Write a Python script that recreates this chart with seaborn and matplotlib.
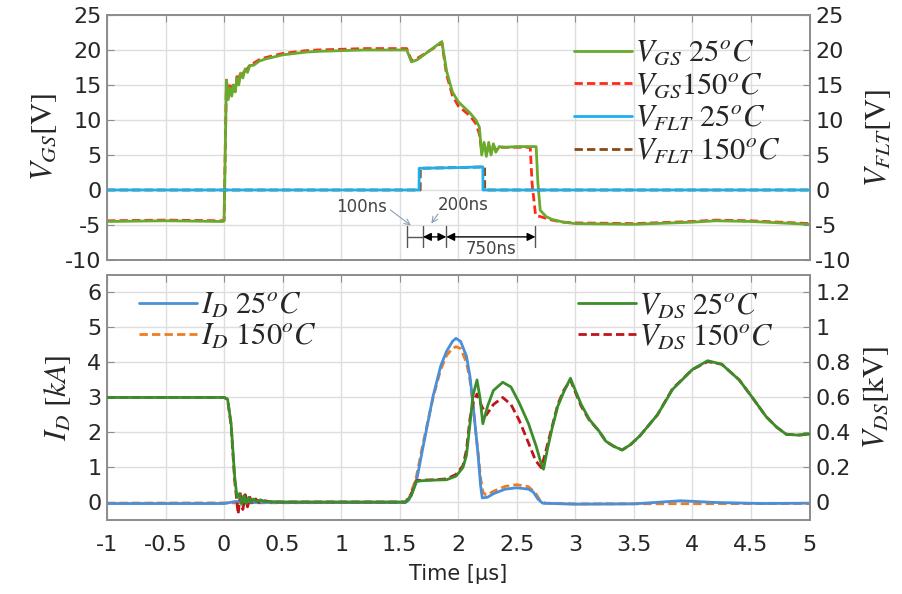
import numpy as np
import matplotlib
matplotlib.use("Agg")
import matplotlib.pyplot as plt
from matplotlib.ticker import FuncFormatter
import seaborn as sns

# ==========================================
# datos (tiempo en us)
# ==========================================
t_vgs25 = [-1, -0.5, -0.01, 0.0, 0.02, 0.035, 0.05, 0.065, 0.08, 0.095, 0.11, 0.125, 0.14,
           0.16, 0.18, 0.20, 0.22, 0.25, 0.30, 0.35, 0.40, 0.5, 0.6, 0.7, 0.8, 1.0, 1.2, 1.4,
           1.56, 1.60, 1.65, 1.86, 1.90, 1.95, 2.00, 2.05, 2.10, 2.15, 2.18, 2.20, 2.22, 2.24,
           2.26, 2.28, 2.30, 2.32, 2.35, 2.40, 2.5, 2.6, 2.665, 2.68, 2.70, 2.75, 2.8, 2.9,
           3.0, 3.5, 4.0, 4.2, 4.5, 5.0]
v_vgs25 = [-4.5, -4.4, -4.5, -4.4, 15.7, 12.9, 14.6, 13.4, 15.0, 14.0, 16.0, 15.0, 16.7,
           16.0, 17.3, 16.8, 17.8, 17.8, 18.4, 18.7, 18.9, 19.3, 19.5, 19.7, 19.8, 19.9, 20.0, 20.0,
           20.0, 18.3, 18.6, 21.2, 17.0, 14.0, 12.6, 11.8, 11.0, 10.0, 9.0, 5.0, 6.8, 4.8,
           6.8, 5.0, 6.6, 5.4, 6.2, 6.1, 6.2, 6.2, 6.2, 1.0, -2.9, -3.8, -4.2, -4.6,
           -4.8, -4.9, -4.6, -4.4, -4.5, -4.9]

t_vgs150 = [-1, -0.5, -0.01, 0.0, 0.02, 0.035, 0.05, 0.065, 0.08, 0.095, 0.11, 0.125, 0.14,
            0.16, 0.18, 0.20, 0.22, 0.25, 0.30, 0.35, 0.40, 0.5, 0.6, 0.7, 0.8, 1.0, 1.2, 1.4,
            1.56, 1.60, 1.65, 1.86, 1.90, 1.95, 2.00, 2.05, 2.10, 2.15, 2.18, 2.20, 2.22, 2.24,
            2.26, 2.28, 2.30, 2.32, 2.35, 2.40, 2.5, 2.6, 2.615, 2.63, 2.66, 2.72, 2.8, 2.9,
            3.0, 3.5, 4.0, 4.2, 4.5, 5.0]
v_vgs150 = [-4.4, -4.3, -4.4, -4.3, 15.9, 13.2, 14.9, 13.7, 15.3, 14.3, 16.2, 15.3, 16.9,
            16.3, 17.5, 17.1, 18.0, 18.1, 18.6, 18.9, 19.1, 19.5, 19.7, 19.9, 20.0, 20.1, 20.2, 20.2,
            20.2, 18.5, 18.8, 21.0, 16.5, 13.5, 12.0, 11.3, 10.6, 9.5, 8.0, 5.6, 6.5, 5.2,
            6.5, 5.4, 6.4, 5.7, 6.1, 6.1, 6.1, 6.1, 6.0, 1.0, -3.6, -3.9, -4.3, -4.6,
            -4.7, -4.8, -4.5, -4.3, -4.4, -4.8]

t_vflt25 = [-1, 1.665, 1.666, 2.0, 2.21, 2.211, 5]
v_vflt25 = [0, 0, 3.1, 3.2, 3.3, 0, 0]
t_vflt150 = [-1, 1.675, 1.676, 2.0, 2.225, 2.226, 5]
v_vflt150 = [0, 0, 3.1, 3.2, 3.3, 0, 0]

t_id25 = [-1, 0, 0.1, 0.2, 1.0, 1.55, 1.58, 1.64, 1.70, 1.785, 1.85, 1.90, 1.95, 1.98,
          2.02, 2.07, 2.10, 2.125, 2.15, 2.17, 2.19, 2.205, 2.25, 2.30, 2.40, 2.50, 2.60,
          2.64, 2.68, 2.72, 3.0, 3.5, 3.9, 4.2, 4.6, 5.0]
i_id25 = [-0.03, -0.03, 0.03, 0.0, 0.0, 0.0, 0.08, 0.56, 1.6, 3.04, 3.9, 4.32, 4.6, 4.69,
          4.6, 4.18, 3.6, 2.85, 2.0, 1.32, 0.5, 0.13, 0.15, 0.25, 0.38, 0.42, 0.38,
          0.3, 0.1, -0.02, -0.05, -0.04, 0.05, 0.0, -0.03, -0.02]

t_id150 = [-1, 1.55, 1.58, 1.64, 1.70, 1.785, 1.85, 1.90, 1.95, 1.98, 2.02, 2.07, 2.10,
           2.125, 2.15, 2.17, 2.19, 2.21, 2.24, 2.30, 2.40, 2.50, 2.60, 2.66, 2.70, 2.74,
           3.0, 5.0]
i_id150 = [-0.02, 0.0, 0.12, 0.7, 1.7, 3.0, 3.8, 4.2, 4.4, 4.45, 4.4, 4.0, 3.5,
           2.8, 2.0, 1.4, 0.7, 0.3, 0.2, 0.32, 0.46, 0.51, 0.45, 0.27, 0.05, -0.02,
           -0.04, -0.03]

t_vds25 = [-1, -0.5, 0.0, 0.03, 0.06, 0.09, 0.11, 0.13, 0.15, 0.17, 0.19, 0.21, 0.23, 0.25,
           0.28, 0.31, 0.35, 0.4, 0.5, 1.0, 1.55, 1.60, 1.64, 1.7, 1.8, 1.9, 1.98, 2.04, 2.07,
           2.10, 2.125, 2.16, 2.185, 2.21, 2.25, 2.30, 2.38, 2.45, 2.52, 2.6, 2.666, 2.70,
           2.728, 2.76, 2.8, 2.85, 2.9, 2.958, 3.0, 3.05, 3.12, 3.2, 3.26, 3.33, 3.40, 3.47,
           3.55, 3.7, 3.83, 4.0, 4.13, 4.25, 4.4, 4.5, 4.63, 4.72, 4.80, 4.9, 5.0]
v_vds25 = [0.6, 0.6, 0.6, 0.59, 0.45, 0.15, 0.03, 0.05, -0.01, 0.04, -0.005, 0.03, 0.0, 0.02,
           0.005, 0.015, 0.005, 0.005, 0.003, 0.003, 0.003, 0.04, 0.12, 0.125, 0.128, 0.13, 0.15, 0.2, 0.27,
           0.45, 0.61, 0.70, 0.60, 0.45, 0.55, 0.64, 0.687, 0.66, 0.57, 0.45, 0.32, 0.24,
           0.19, 0.3, 0.42, 0.55, 0.63, 0.71, 0.64, 0.56, 0.474, 0.41, 0.35, 0.32, 0.30, 0.33,
           0.38, 0.5, 0.646, 0.76, 0.81, 0.79, 0.70, 0.61, 0.49, 0.43, 0.39, 0.385, 0.39]

t_vds150 = [-1, -0.5, 0.0, 0.03, 0.06, 0.09, 0.11, 0.12, 0.14, 0.16, 0.18, 0.20, 0.22, 0.24,
            0.27, 0.30, 0.35, 0.4, 0.5, 1.0, 1.55, 1.60, 1.64, 1.7, 1.8, 1.9, 1.98, 2.04, 2.07,
            2.10, 2.13, 2.16, 2.20, 2.24, 2.30, 2.38, 2.45, 2.52, 2.6, 2.66, 2.71, 2.75, 2.8,
            2.85, 2.9, 2.958, 3.0, 3.05, 3.12, 3.2, 3.26, 3.33, 3.40, 3.47, 3.55, 3.7, 3.83,
            4.0, 4.13, 4.25, 4.4, 4.5, 4.63, 4.72, 4.80, 4.9, 5.0]
v_vds150 = [0.6, 0.6, 0.6, 0.59, 0.44, 0.13, 0.0, -0.067, 0.06, -0.04, 0.045, -0.025, 0.03, -0.01,
            0.02, 0.0, 0.01, 0.003, 0.003, 0.003, 0.003, 0.05, 0.125, 0.128, 0.13, 0.135, 0.16, 0.21, 0.30,
            0.48, 0.58, 0.62, 0.55, 0.50, 0.56, 0.60, 0.56, 0.47, 0.34, 0.24, 0.198, 0.3, 0.43,
            0.56, 0.64, 0.70, 0.63, 0.55, 0.47, 0.41, 0.35, 0.32, 0.30, 0.33, 0.38, 0.5, 0.65,
            0.76, 0.805, 0.79, 0.70, 0.61, 0.49, 0.43, 0.39, 0.385, 0.39]

# cotas de tiempo (100ns / 200ns / 750ns)
cotas_t = [1.566, 1.699, 1.898, 2.659]

# ==========================================
# estilo
# ==========================================
sns.set_style("whitegrid")
plt.rcParams['font.family'] = ['DejaVu Sans']
plt.rcParams['mathtext.fontset'] = 'stix'
plt.rcParams['axes.unicode_minus'] = False

gris_borde = '#8c8c8c'
gris_grid = '#dedede'
col_txt = '#262626'

fig = plt.figure(figsize=(9.03, 5.94), dpi=100)
ax1 = fig.add_axes([0.1185, 0.5623, 0.778, 0.4125])
ax2 = fig.add_axes([0.1185, 0.1246, 0.778, 0.4125])
ax1r = ax1.twinx()
ax2r = ax2.twinx()

fmt = FuncFormatter(lambda v, p: f'{v:g}')


def linea(ax, t, v, color, ls, label, lw=2.0, z=2):
    sns.lineplot(x=t, y=v, ax=ax, color=color, linestyle=ls, linewidth=lw, label=label,
                 estimator=None, sort=False, zorder=z)


# ---- panel superior ----
linea(ax1, t_vgs150, v_vgs150, '#ff2a1a', (0, (3, 1.5)), r'$V_{GS}150^{o}C$', z=2)
linea(ax1, t_vgs25, v_vgs25, '#6aaa2c', '-', r'$V_{GS}\ 25^{o}C$', z=3)
linea(ax1r, t_vflt150, v_vflt150, '#8a4a12', (0, (3, 1.5)), r'$V_{FLT}\ 150^{o}C$', z=2)
linea(ax1r, t_vflt25, v_vflt25, '#1eb0ee', '-', r'$V_{FLT}\ 25^{o}C$', z=3)

# ---- panel inferior ----
linea(ax2, t_id150, i_id150, '#ee7d22', (0, (3, 1.5)), r'$I_D\ 150^{o}C$', z=2)
linea(ax2, t_id25, i_id25, '#4a8fd8', '-', r'$I_D\ 25^{o}C$', z=3)
linea(ax2r, t_vds150, v_vds150, '#c0141a', (0, (3, 1.5)), r'$V_{DS}\ 150^{o}C$', z=2)
linea(ax2r, t_vds25, v_vds25, '#3a8e2a', '-', r'$V_{DS}\ 25^{o}C$', z=3)

for ax in (ax1, ax2):
    ax.set_xlim(-1, 5)
    ax.set_xticks(np.arange(-1, 5.01, 0.5))
    ax.grid(True, color=gris_grid, linewidth=1.0)
    ax.xaxis.set_major_formatter(fmt)
    ax.yaxis.set_major_formatter(fmt)
for ax in (ax1r, ax2r):
    ax.grid(False)
    ax.yaxis.set_major_formatter(fmt)
for ax in (ax1, ax2, ax1r, ax2r):
    for s in ax.spines.values():
        s.set_color(gris_borde)
        s.set_linewidth(1.2)
    ax.tick_params(direction='in', length=5, color=gris_borde, labelsize=16,
                   labelcolor=col_txt, pad=4, top=True)
    ax.set_facecolor('none')
ax2.tick_params(axis='x', pad=11)

ax1.set_ylim(-10, 25)
ax1.set_yticks(np.arange(-10, 26, 5))
ax1r.set_ylim(-10, 25)
ax1r.set_yticks(np.arange(-10, 26, 5))
ax1.tick_params(labelbottom=False)
ax1r.tick_params(labelbottom=False)

ax2.set_ylim(-0.5, 6.5)
ax2.set_yticks(np.arange(0, 7, 1))
ax2r.set_ylim(-0.1, 1.3)
ax2r.set_yticks([0, 0.2, 0.4, 0.6, 0.8, 1.0, 1.2])

ax1.set_ylabel(r'$V_{GS}[\mathrm{V}]$', fontsize=22, color=col_txt, labelpad=4)
ax1r.set_ylabel(r'$V_{FLT}[\mathrm{V}]$', fontsize=22, color=col_txt, labelpad=8)
ax2.set_ylabel(r'$I_D\ [kA]$', fontsize=22, color=col_txt, labelpad=10)
ax2r.set_ylabel(r'$V_{DS}[\mathrm{kV}]$', fontsize=22, color=col_txt, labelpad=8)
ax2.set_xlabel('Time [µs]', fontsize=15, color=col_txt, labelpad=6)

# ---- leyendas ----
for ax in (ax1, ax1r, ax2, ax2r):
    if ax.get_legend() is not None:
        ax.get_legend().remove()

h1, l1 = ax1.get_legend_handles_labels()
h1r, l1r = ax1r.get_legend_handles_labels()
ax1r.legend([h1[1], h1[0], h1r[1], h1r[0]], [l1[1], l1[0], l1r[1], l1r[0]],
            loc='upper right', bbox_to_anchor=(0.985, 0.98), frameon=False,
            fontsize=22, labelspacing=0.12, handlelength=1.9, handletextpad=0.1,
            borderaxespad=0.2)

h2, l2 = ax2.get_legend_handles_labels()
ax2.legend([h2[1], h2[0]], [l2[1], l2[0]], loc='upper left', bbox_to_anchor=(0.02, 1.01),
           frameon=False, fontsize=22, labelspacing=0.05, handlelength=1.9,
           handletextpad=0.1, borderaxespad=0.2)
h2r, l2r = ax2r.get_legend_handles_labels()
ax2r.legend([h2r[1], h2r[0]], [l2r[1], l2r[0]], loc='upper right',
            bbox_to_anchor=(0.975, 1.01), frameon=False, fontsize=22, labelspacing=0.05,
            handlelength=1.9, handletextpad=0.1, borderaxespad=0.2)

# ---- cotas de tiempo ----
y_cota = -6.7
for tc in cotas_t:
    ax1r.plot([tc, tc], [-5.2, -8.1], color='#555555', lw=1.0)
ax1r.plot([cotas_t[0], cotas_t[1]], [y_cota, y_cota], color='#555555', lw=1.0)
for a, b in [(cotas_t[1], cotas_t[2]), (cotas_t[2], cotas_t[3])]:
    ax1r.annotate('', xy=(a, y_cota), xytext=(b, y_cota),
                  arrowprops=dict(arrowstyle='<|-|>', color='black', lw=1.0,
                                  shrinkA=0, shrinkB=0, mutation_scale=12))
ax1r.text(1.176, -2.4, '100ns', fontsize=12, color='#444444', ha='center', va='center')
ax1r.text(2.04, -2.1, '200ns', fontsize=12, color='#444444', ha='center', va='center')
ax1r.text(2.28, -8.5, '750ns', fontsize=12, color='#444444', ha='center', va='center')
ax1r.annotate('', xy=(1.614, -5.3), xytext=(1.40, -2.6),
              arrowprops=dict(arrowstyle='->', color='#8aa0b8', lw=0.8))
ax1r.annotate('', xy=(1.756, -5.1), xytext=(1.841, -3.1),
              arrowprops=dict(arrowstyle='->', color='#8aa0b8', lw=0.8))

fig.savefig('out.png', dpi=100)
